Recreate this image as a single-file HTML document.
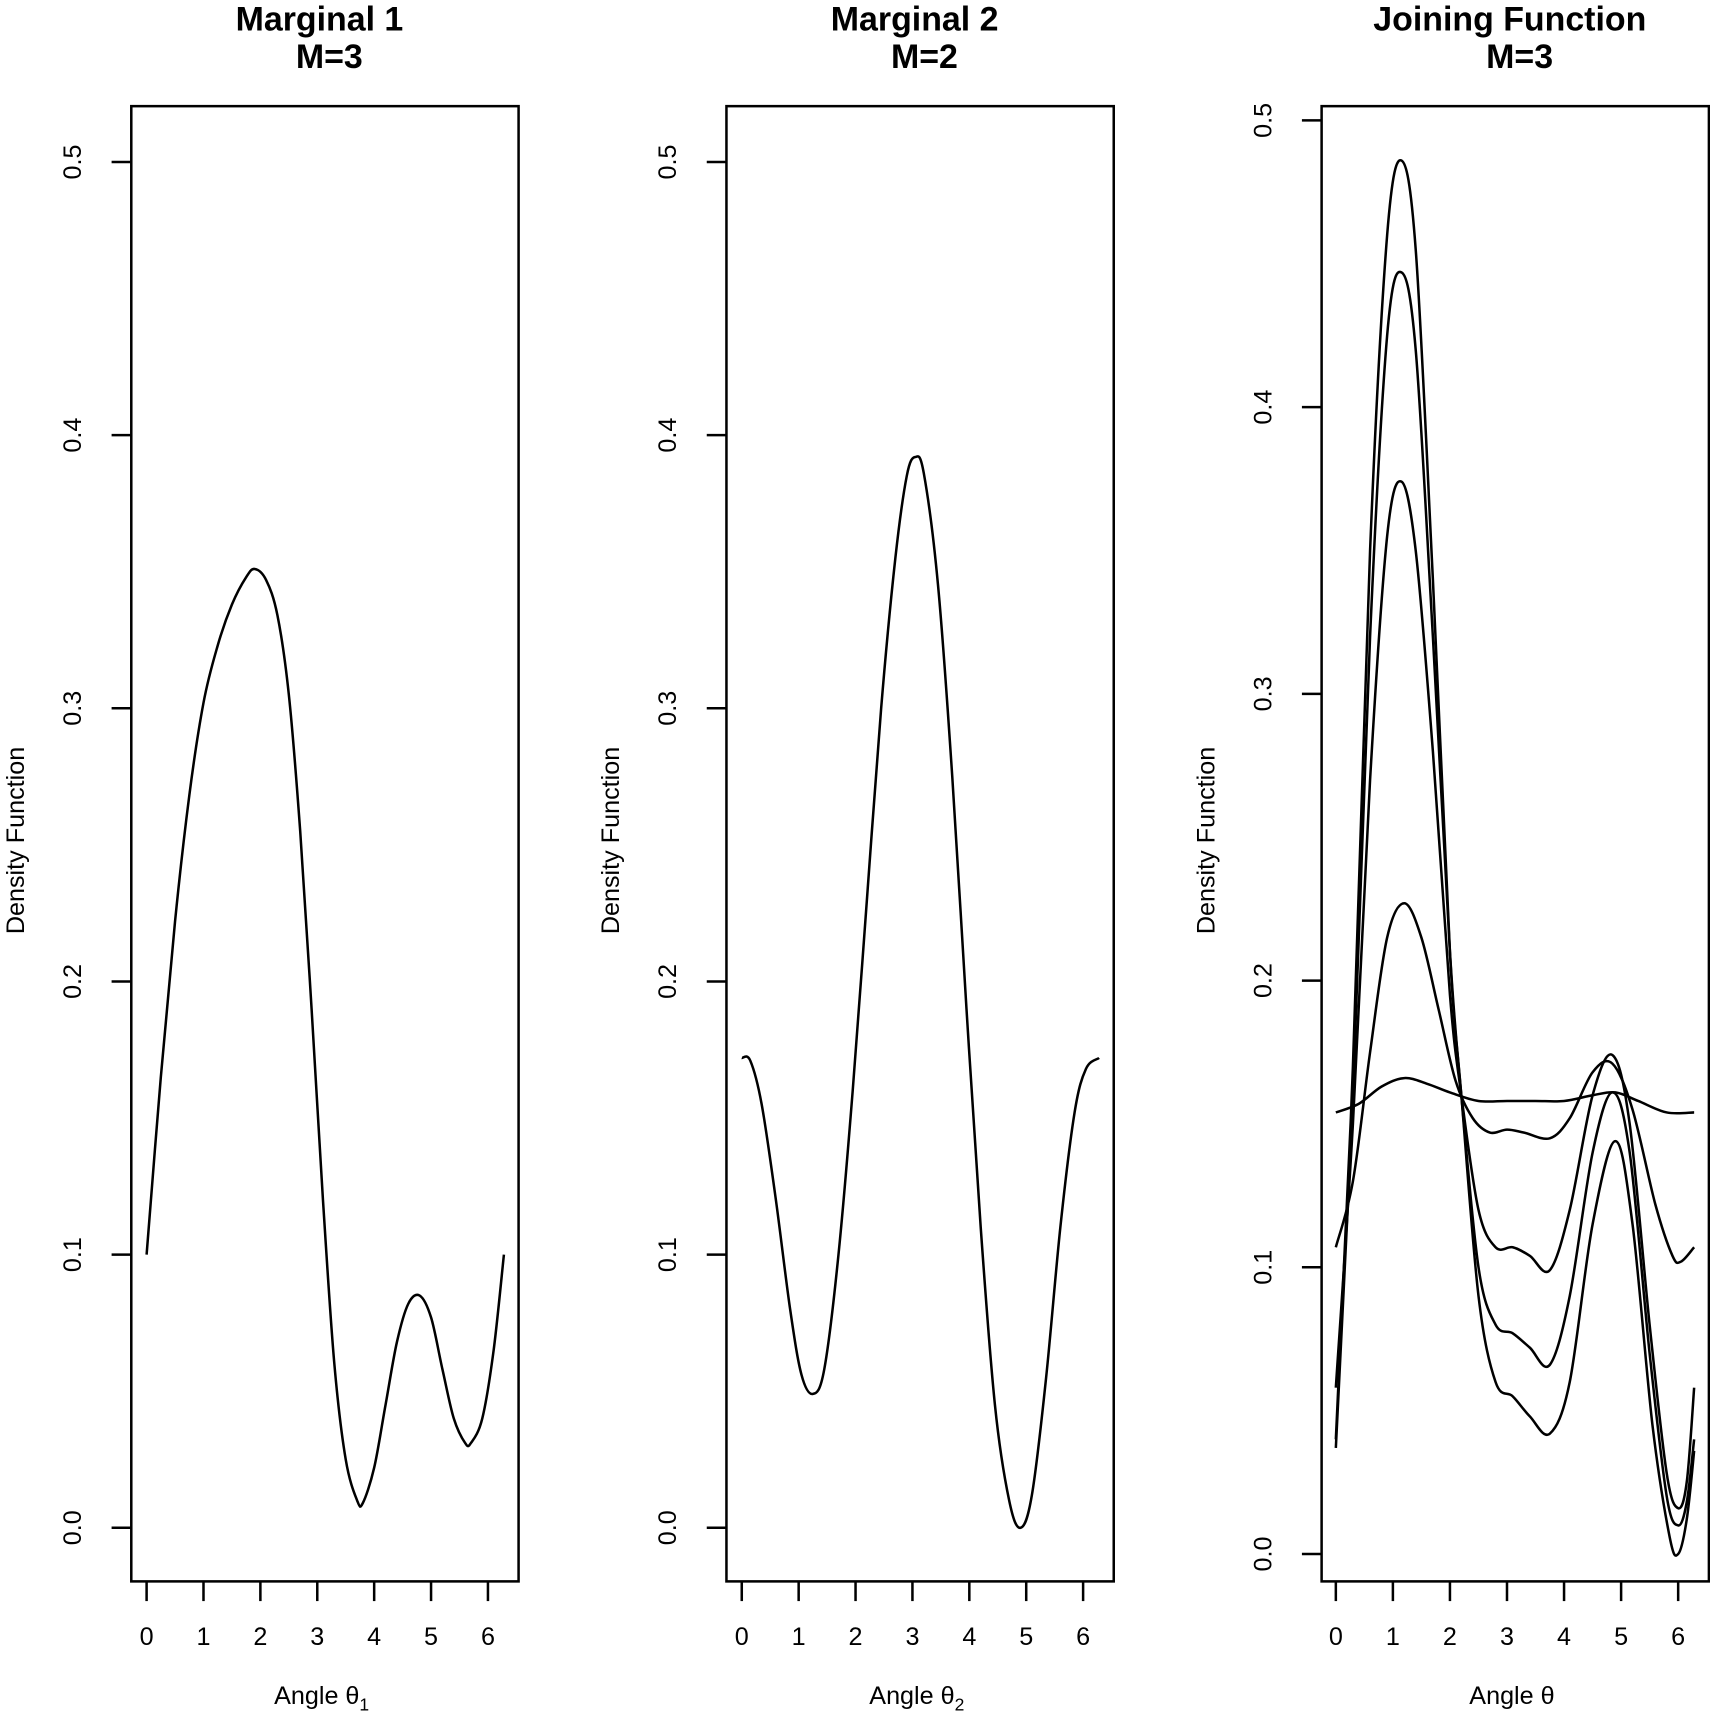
<!DOCTYPE html>
<html><head><meta charset="utf-8">
<style>
html,body{margin:0;padding:0;background:#fff;}
svg{display:block;}
text{font-family:"Liberation Sans",Arial,sans-serif;fill:#000;}
.t{font-weight:bold;font-size:31px;}
.tk{font-size:23px;}
.lb{font-size:23px;}
</style></head>
<body>
<svg id="s" width="1710" height="1716" viewBox="0 0 1563 1568" preserveAspectRatio="none" xmlns="http://www.w3.org/2000/svg">
<g id="g" fill="none" stroke="#000" stroke-width="2.3"></g>
</svg>
<script>
var g=document.getElementById('g'),s=document.getElementById('s');
function el(tag,attrs,txt,parent){var e=document.createElementNS('http://www.w3.org/2000/svg',tag);for(var k in attrs)e.setAttribute(k,attrs[k]);if(txt!=null)e.textContent=txt;(parent||g).appendChild(e);return e;}
function spline(pts){var d='M'+pts[0][0].toFixed(1)+','+pts[0][1].toFixed(1);
 for(var i=0;i<pts.length-1;i++){var p0=pts[Math.max(0,i-1)],p1=pts[i],p2=pts[i+1],p3=pts[Math.min(pts.length-1,i+2)];
 var c1=[p1[0]+(p2[0]-p0[0])/6,p1[1]+(p2[1]-p0[1])/6],c2=[p2[0]-(p3[0]-p1[0])/6,p2[1]-(p3[1]-p1[1])/6];
 d+='C'+c1[0].toFixed(1)+','+c1[1].toFixed(1)+' '+c2[0].toFixed(1)+','+c2[1].toFixed(1)+' '+p2[0].toFixed(1)+','+p2[1].toFixed(1);}
 return d;}
function panel(o){
 el('rect',{x:o.bx0,y:97,width:o.bx1-o.bx0,height:1445-97});
 var X=function(v){return o.x0+v*o.xs},Y=function(v){return o.y0-v*o.ys};
 for(var i=0;i<=6;i++){el('line',{x1:X(i),x2:X(i),y1:1445,y2:1463});
  el('text',{x:X(i),y:1503,'text-anchor':'middle','class':'tk'},String(i),s);}
 for(var j=0;j<=5;j++){var v=j/10,yy=Y(v);el('line',{x1:o.bx0,x2:o.bx0-18,y1:yy,y2:yy});
  el('text',{x:0,y:0,'text-anchor':'middle','class':'tk',transform:'translate('+(o.bx0-46)+','+yy+') rotate(-90)'},v.toFixed(1),s);}
 el('text',{x:0,y:0,'text-anchor':'middle','class':'lb',transform:'translate('+(o.bx0-98)+',768) rotate(-90)'},'Density Function',s);
 var cx=(o.bx0+o.bx1)/2-5;
 el('text',{x:cx,y:28,'text-anchor':'middle','class':'t'},o.t1,s);
 el('text',{x:cx+9,y:62,'text-anchor':'middle','class':'t'},o.t2,s);
 var xl=el('text',{x:cx+2,y:1557,'text-anchor':'middle','class':'lb'},o.xl,s);
 if(o.sub){el('tspan',{'font-size':'16px',dy:'6'},o.sub,xl);}
 o.curves.forEach(function(c){el('path',{d:spline(c.map(function(p){return[X(p[0]),Y(p[1])]}))});});
}
var m1=[[0,0.1],[0.25,0.165],[0.5,0.222],[0.75,0.268],[1,0.302],[1.25,0.323],[1.5,0.338],[1.75,0.348],[1.9,0.351],[2.1,0.347],[2.3,0.334],[2.5,0.305],[2.7,0.255],[2.9,0.19],[3.1,0.12],[3.3,0.06],[3.5,0.025],[3.7,0.01],[3.8,0.009],[4.0,0.022],[4.2,0.045],[4.4,0.068],[4.6,0.082],[4.8,0.085],[5.0,0.077],[5.2,0.058],[5.4,0.04],[5.6,0.031],[5.7,0.031],[5.9,0.04],[6.1,0.065],[6.28,0.1]];
var m2=[[0,0.172],[0.15,0.171],[0.35,0.155],[0.6,0.12],[0.85,0.08],[1.05,0.056],[1.25,0.049],[1.45,0.058],[1.7,0.1],[1.95,0.16],[2.2,0.23],[2.45,0.3],[2.7,0.355],[2.9,0.385],[3.05,0.392],[3.2,0.386],[3.45,0.345],[3.7,0.275],[3.95,0.19],[4.2,0.11],[4.45,0.045],[4.7,0.01],[4.9,0.0],[5.1,0.012],[5.35,0.055],[5.6,0.11],[5.85,0.152],[6.05,0.168],[6.28,0.172]];
var jA=[[0,0.154],[0.4,0.157],[0.8,0.163],[1.2,0.166],[1.6,0.164],[2.0,0.161],[2.5,0.158],[3.0,0.158],[3.5,0.158],[4.0,0.158],[4.5,0.16],[4.9,0.161],[5.3,0.158],[5.8,0.154],[6.28,0.154]];
var jB=[[0,0.107],[0.3,0.13],[0.6,0.175],[0.9,0.215],[1.2,0.227],[1.5,0.215],[1.8,0.19],[2.1,0.165],[2.4,0.152],[2.7,0.147],[3.0,0.148],[3.3,0.147],[3.75,0.145],[4.1,0.152],[4.5,0.168],[4.85,0.171],[5.2,0.155],[5.6,0.122],[5.9,0.104],[6.05,0.102],[6.28,0.107]];
var jC=[[0,0.058],[0.3,0.15],[0.6,0.27],[0.9,0.355],[1.15,0.374],[1.4,0.35],[1.7,0.28],[2.0,0.195],[2.2,0.16],[2.5,0.12],[2.8,0.107],[3.1,0.107],[3.4,0.104],[3.75,0.099],[4.1,0.12],[4.5,0.16],[4.85,0.174],[5.15,0.15],[5.5,0.08],[5.8,0.028],[6.0,0.016],[6.15,0.025],[6.28,0.058]];
var jD=[[0,0.037],[0.3,0.16],[0.6,0.32],[0.9,0.425],[1.15,0.447],[1.4,0.42],[1.7,0.32],[2.0,0.21],[2.2,0.16],[2.5,0.1],[2.8,0.08],[3.1,0.077],[3.4,0.072],[3.75,0.066],[4.1,0.09],[4.5,0.14],[4.85,0.161],[5.15,0.14],[5.5,0.07],[5.8,0.02],[6.0,0.01],[6.15,0.018],[6.28,0.04]];
var jE=[[0,0.04],[0.3,0.17],[0.6,0.35],[0.9,0.46],[1.15,0.486],[1.4,0.455],[1.7,0.34],[2.0,0.21],[2.2,0.16],[2.5,0.09],[2.8,0.06],[3.1,0.055],[3.4,0.048],[3.75,0.042],[4.1,0.06],[4.5,0.115],[4.9,0.144],[5.2,0.115],[5.55,0.045],[5.85,0.006],[6.0,0.0],[6.15,0.012],[6.28,0.036]];
panel({bx0:120,bx1:474,x0:134,xs:52,y0:1396,ys:2496,t1:'Marginal 1',t2:'M=3',xl:'Angle \u03b8',sub:'1',curves:[m1]});
panel({bx0:664,bx1:1018,x0:678,xs:52,y0:1396,ys:2496,t1:'Marginal 2',t2:'M=2',xl:'Angle \u03b8',sub:'2',curves:[m2]});
panel({bx0:1208,bx1:1562,x0:1221,xs:52.15,y0:1420,ys:2620,t1:'Joining Function',t2:'M=3',xl:'Angle \u03b8',curves:[jA,jB,jC,jD,jE]});
</script>
</body></html>
